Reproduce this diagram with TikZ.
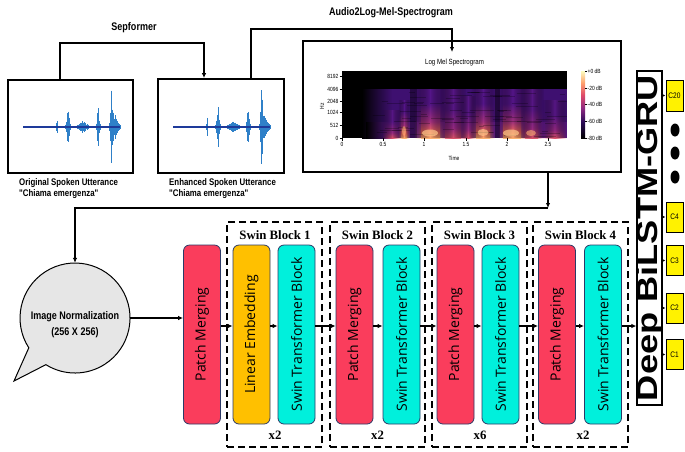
\documentclass[tikz,border=0pt]{standalone}
\usepackage{fontspec}
\usepackage{graphicx}
\setmainfont{Liberation Serif}
\newfontfamily\nar[FakeStretch=0.82]{Liberation Sans}
\newfontfamily\osans{Open Sans}
\newfontfamily\heavy[FakeStretch=1.25]{Liberation Sans}
\usetikzlibrary{arrows.meta,fadings}
\definecolor{pmred}{HTML}{FA3D5C}
\definecolor{leorange}{HTML}{FFC000}
\definecolor{stbcyan}{HTML}{00F0DC}
\definecolor{bordnavy}{HTML}{2B3A67}
\definecolor{wave}{HTML}{2F80C8}
\definecolor{wavebase}{HTML}{1E3A9A}
\definecolor{bubgray}{HTML}{E6E6E6}
\definecolor{m1}{HTML}{2B0B57}
\definecolor{m2}{HTML}{8C2981}
\definecolor{m3}{HTML}{DE4968}
\definecolor{m4}{HTML}{FE9F6D}
\definecolor{m5}{HTML}{FCFDBF}
\definecolor{body}{HTML}{3E1070}
\definecolor{h1}{HTML}{FDB070}
\definecolor{h2}{HTML}{F26A5E}
\definecolor{h3}{HTML}{A2307E}
\definecolor{h4}{HTML}{541588}
\definecolor{w1}{HTML}{D85068}
\definecolor{w2}{HTML}{93287E}
\definecolor{w3}{HTML}{561684}
\tikzfading[name=softx, left color=transparent!100, right color=transparent!100, middle color=transparent!0]
\pgfdeclareverticalshading{magma}{100bp}{color(0bp)=(black); color(25bp)=(black); color(37bp)=(m1); color(47bp)=(m2); color(57bp)=(m3); color(66bp)=(m4); color(75bp)=(m5); color(100bp)=(m5)}
\pgfdeclareverticalshading{hotcol}{100bp}{color(0bp)=(h1); color(25bp)=(h1); color(31bp)=(h2); color(42bp)=(h3); color(60bp)=(h4); color(75bp)=(h4); color(100bp)=(h4)}
\pgfdeclareverticalshading{warmcol}{100bp}{color(0bp)=(w1); color(25bp)=(w1); color(35bp)=(w2); color(55bp)=(w3); color(75bp)=(w3); color(100bp)=(w3)}
\newcommand\drawwave[1]{%
  \foreach \i in {0,...,194}{%
    \pgfmathsetmacro\xx{23+\i*0.5}%
    \pgfmathsetmacro\ta{max(0,1-abs(\xx-57)/1.2)}%
    \pgfmathsetmacro\tb{max(0,1-abs(\xx-68)/3.5)}%
    \pgfmathsetmacro\tc{max(0,1-abs(\xx-83)/7)}%
    \pgfmathsetmacro\td{max(0,1-abs(\xx-98)/3)}%
    \pgfmathsetmacro\te{max(0,1-abs(\xx-111.5)/2.5)}%
    \pgfmathsetmacro\tf{max(0,1-abs(\xx-114.5)/6)}%
    \pgfmathsetmacro\aa{(0.55+0.45*rnd)*(1.0+9*\ta*\ta+20*\tb*\tb+5*\tc+20*\td*\td+34*\te*\te+12*\tf)}%
    \draw[wave, line width=0.6pt] (\xx+#1,127-\aa) -- (\xx+#1,127+\aa);
  }%
  \draw[wavebase, line width=1.2pt] (23+#1,127) -- (120+#1,127);
}
\begin{document}
\begin{tikzpicture}[x=1pt,y=-1pt,
  conn/.style={line width=1.1pt, -{Latex[length=5pt,width=4.5pt]}},
  sconn/.style={line width=1pt, -{Latex[length=3.5pt,width=3.5pt]}},
  imgbox/.style={draw=black, line width=1.8pt, fill=white, inner sep=0pt},
  vbox/.style={draw=bordnavy, line width=0.8pt, rounded corners=6pt, minimum width=37pt, minimum height=179pt, inner sep=0pt, font=\osans\fontsize{14}{15}\selectfont},
  pmbox/.style={vbox, fill=pmred},
  lebox/.style={vbox, fill=leorange},
  stbox/.style={vbox, fill=stbcyan},
  swin/.style={draw, dash pattern=on 7pt off 4pt, line width=1.1pt, minimum width=95pt, minimum height=225pt, inner sep=0pt},
  swtitle/.style={font=\bfseries\fontsize{12.8}{14}\selectfont, inner sep=0pt},
  cbox/.style={draw, fill=yellow, line width=1pt, minimum width=17pt, minimum height=30pt, inner sep=0pt, font=\nar\fontsize{8}{9}\selectfont},
  lab/.style={font=\nar\bfseries\fontsize{11}{13}\selectfont, inner sep=0pt},
  tick/.style={font=\nar\fontsize{6}{7}\selectfont, inner sep=0pt},
  glowhot/.style={shading=hotcol, path fading=softx},
  glowwarm/.style={shading=warmcol, path fading=softx}
]
\useasboundingbox (0,0) rectangle (685,451);
\fill[white] (0,0) rectangle (685,451);

% ---- waveform boxes
\node[imgbox, minimum width=125pt, minimum height=93pt] (orig) at (70.5,126.5) {};
\node[imgbox, minimum width=126pt, minimum height=94pt] (enh) at (221,126) {};
\pgfmathsetseed{3}
\drawwave{0}
\pgfmathsetseed{11}
\drawwave{150}
\node[anchor=north west, align=left, font=\nar\bfseries\fontsize{9.6}{11}\selectfont, inner sep=0pt] (olab) at (19,178) {Original Spoken Utterance\\"Chiama emergenza"};
\node[anchor=north west, align=left, font=\nar\bfseries\fontsize{9.6}{11}\selectfont, inner sep=0pt] (elab) at (169,178) {Enhanced Spoken Utterance\\"Chiama emergenza"};

% ---- top connectors
\node[lab] (seplab) at (134,28) {Sepformer};
\node[lab] (audlab) at (391,13) {Audio2Log-Mel-Spectrogram};
\coordinate (sepL) at (60,43);
\coordinate (sepR) at (204,43);
\draw[conn] (orig.north -| sepL) -- (sepL) -- (sepR) -- (enh.north -| sepR);

% ---- spectrogram box
\node[imgbox, line width=2pt, minimum width=318pt, minimum height=131pt] (spec) at (462,106.5) {};
\coordinate (audL) at (251,29);
\coordinate (audR) at (452,29);
\coordinate (audE) at (452,52);
\draw[conn] (enh.north -| audL) -- (audL) -- (audR) -- (audE);
\node[tick, font=\nar\fontsize{7.5}{8}\selectfont] (sptitle) at (454.5,63) {Log Mel Spectrogram};
% plot area
\fill[black] (342,71) rectangle (567,138);
\fill[left color=black, right color=body] (362,89) rectangle (392,138);
\fill[body] (392,89) rectangle (567,138);
\fill[left color=black, right color=w3] (366,122) rectangle (392,138);
\fill[w3] (392,122) rectangle (567,138);
\fill[glowwarm] (382,110) rectangle (402,138);
\fill[black, opacity=0.4] (410,89) rectangle (417,138);
\fill[black, opacity=0.45] (495,89) rectangle (500,138);
% cores
\fill[shading=hotcol, opacity=0.85] (401.5,104) rectangle (406.5,138);
\fill[shading=hotcol, opacity=0.8] (421,89) rectangle (440,138);
\fill[shading=warmcol, opacity=0.7] (445,89) rectangle (461,138);
\fill[shading=hotcol, opacity=0.85] (476,89) rectangle (490,138);
\fill[shading=hotcol, opacity=0.85] (503,89) rectangle (521,138);
\fill[shading=warmcol, opacity=0.75] (525,89) rectangle (538,138);
% glows
\fill[glowhot] (398,100) rectangle (410,138);
\fill[glowhot] (414,89) rectangle (446,138);
\fill[glowwarm] (440,89) rectangle (466,138);
\fill[glowwarm] (460,96) rectangle (476,138);
\fill[glowhot] (471,89) rectangle (495,138);
\fill[glowhot] (498,89) rectangle (527,138);
\fill[glowwarm] (520,89) rectangle (544,138);
\fill[glowwarm] (542,100) rectangle (567,138);
\pgfmathsetseed{5}
\foreach \k in {1,...,70}{
  \pgfmathsetmacro\sy{90+47*rnd}
  \pgfmathsetmacro\sx{370+190*rnd}
  \pgfmathsetmacro\sw{5+20*rnd}
  \draw[black, opacity=0.25, line width=0.6pt] (\sx,\sy) -- ({min(567,\sx+\sw)},\sy);
}
\fill[h1!70!m5, opacity=0.7] (430,133) ellipse (8 and 3.5);
\fill[h1!70!m5, opacity=0.7] (483,132.5) ellipse (5.5 and 3.5);
\fill[h1!70!m5, opacity=0.7] (511,133) ellipse (8 and 3.5);
\fill[h1, opacity=0.6] (531,133) ellipse (5 and 3);
\fill[h1, opacity=0.6] (404,131) ellipse (2 and 5);
\foreach \yy/\tt in {76/8192,89/4096,101/2048,112/1024,125/512,138/0}{
  \draw[line width=0.4pt] (339.5,\yy) -- (342,\yy);
  \node[tick, anchor=east] at (338.5,\yy) {\tt};
}
\foreach \xx/\tt in {342/0,383/0.5,424/1,466/1.5,507/2,548/2.5}{
  \draw[line width=0.4pt] (\xx,138) -- (\xx,140.5);
  \node[tick, anchor=north] at (\xx,142.5) {\tt};
}
\node[tick, rotate=90] (hz) at (322,106) {Hz};
\node[tick] (time) at (454,158) {Time};
\fill[shading=magma] (581,71) rectangle (585,138);
\foreach \yy/\tt in {71/+0,88/-20,104.5/-40,121/-60,138/-80}{
  \draw[line width=0.4pt] (585,\yy) -- (587,\yy);
  \node[tick, anchor=west] at (587.5,\yy) {\tt\ dB};
}

% ---- bubble
\fill[bubgray, draw=black, line width=1pt] (14,381) -- (28.8,347.8) arc[start angle=147.2, end angle=482, radius=55] -- cycle;
\node[circle, minimum size=110pt, inner sep=0pt] (bub) at (75,318) {};
\node[lab, align=center, font=\nar\bfseries\fontsize{11}{16}\selectfont] (bubtxt) at (75,325) {Image Normalization\\(256 X 256)};
\coordinate (nb) at (548,208);
\coordinate (nL) at (75,208);
\draw[conn] (spec.south -| nb) -- (nb);
\draw[conn] (nb) -- (nL) -- (bub.north);

% ---- swin blocks
\node[swin] (sb1) at (274.5,334.5) {};
\node[swin] (sb2) at (377.5,334.5) {};
\node[swin] (sb3) at (479.5,334.5) {};
\node[swin] (sb4) at (580.5,334.5) {};
\node[swtitle] at (275,235) {Swin Block 1};
\node[swtitle] at (377.5,235) {Swin Block 2};
\node[swtitle] at (479.5,235) {Swin Block 3};
\node[swtitle] at (580.5,235) {Swin Block 4};
\node[swtitle] at (275,435) {x2};
\node[swtitle] at (377.5,435) {x2};
\node[swtitle] at (480,435) {x6};
\node[swtitle] at (583,435) {x2};

\node[pmbox] (pm1) at (202,334.5) {\rotatebox{90}{Patch Merging}};
\node[lebox] (le1) at (251.5,334.5) {\rotatebox{90}{Linear Embedding}};
\node[stbox] (st1) at (296.5,334.5) {\rotatebox{90}{Swin Transformer Block}};
\node[pmbox] (pm2) at (354.5,334.5) {\rotatebox{90}{Patch Merging}};
\node[stbox] (st2) at (401.5,334.5) {\rotatebox{90}{Swin Transformer Block}};
\node[pmbox] (pm3) at (455.5,334.5) {\rotatebox{90}{Patch Merging}};
\node[stbox] (st3) at (500.5,334.5) {\rotatebox{90}{Swin Transformer Block}};
\node[pmbox] (pm4) at (557,334.5) {\rotatebox{90}{Patch Merging}};
\node[stbox] (st4) at (603,334.5) {\rotatebox{90}{Swin Transformer Block}};

\draw[conn] (bub.east) -- (bub.east -| pm1.west);
\coordinate (ay) at (0,326);
\draw[conn] (pm1.east |- ay) -- (le1.west |- ay);
\draw[conn] (le1.east |- ay) -- (st1.west |- ay);
\draw[conn] (st1.east |- ay) -- (pm2.west |- ay);
\draw[conn] (pm2.east |- ay) -- (st2.west |- ay);
\draw[conn] (st2.east |- ay) -- (pm3.west |- ay);
\draw[conn] (pm3.east |- ay) -- (st3.west |- ay);
\draw[conn] (st3.east |- ay) -- (pm4.west |- ay);
\draw[conn] (pm4.east |- ay) -- (st4.west |- ay);

% ---- Deep BiLSTM-GRU
\node[draw, line width=1.2pt, minimum width=25pt, minimum height=334pt, inner sep=0pt] (deep) at (649.5,238) {};
\node[font=\heavy\bfseries\fontsize{29}{30}\selectfont, inner sep=0pt] (deeptxt) at (650,238) {\rotatebox{90}{Deep BiLSTM-GRU}};
\draw[conn] (st4.east |- ay) -- (deep.west |- ay);

\node[cbox, minimum height=31pt] (c20) at (674.5,95.5) {C20};
\node[cbox] (c4) at (674.5,217) {C4};
\node[cbox] (c3) at (674.5,260.5) {C3};
\node[cbox] (c2) at (674.5,308) {C2};
\node[cbox] (c1) at (674.5,354.5) {C1};
\foreach \c in {c20,c4,c3,c2,c1}{
  \draw[sconn] (deep.east |- \c.west) -- (\c.west);
}
\fill[black] (675,130) ellipse (4.5 and 6.5);
\fill[black] (675,153) ellipse (4.5 and 6.5);
\fill[black] (675,177) ellipse (4.5 and 6.5);
\end{tikzpicture}
\end{document}
